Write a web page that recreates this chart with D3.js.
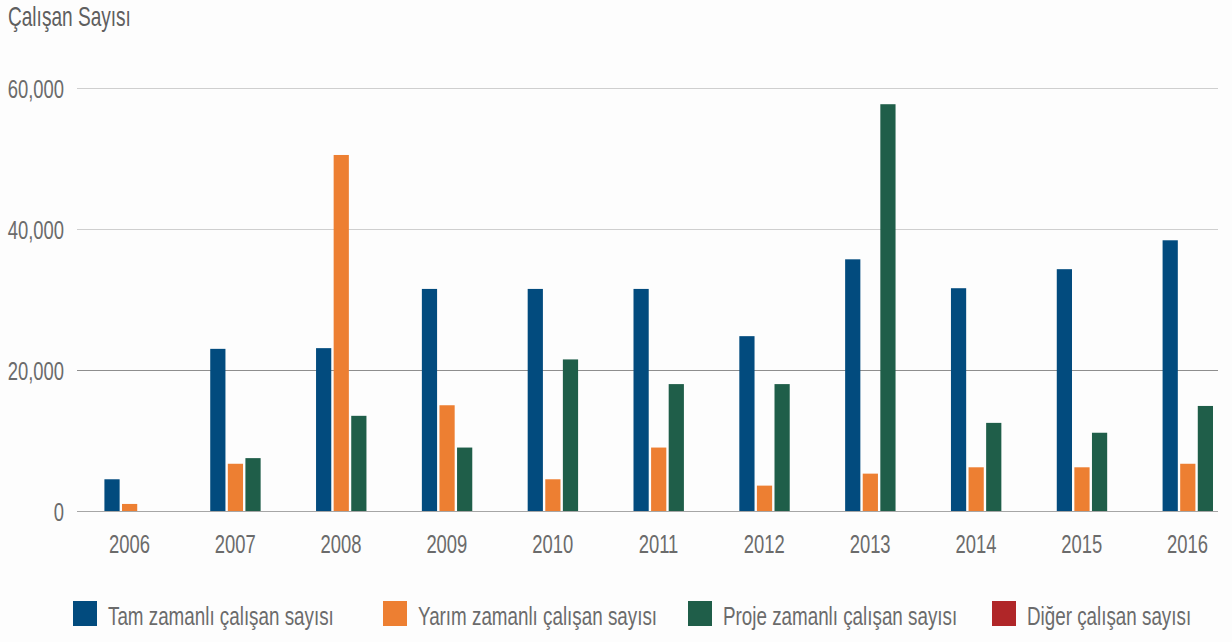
<!DOCTYPE html>
<html>
<head>
<meta charset="utf-8">
<script src="https://cdn.jsdelivr.net/npm/d3@7/dist/d3.min.js"></script>
<style>
  html, body { margin: 0; padding: 0; background: #fdfdfd; }
  svg { display: block; }
  text { font-family: "Liberation Sans Narrow", "Liberation Sans", "DejaVu Sans Condensed", sans-serif; fill: #6b6b6b; }
</style>
</head>
<body>
<div id="chart"></div>
<script>
const years = ['2006', '2007', '2008', '2009', '2010', '2011', '2012', '2013', '2014', '2015', '2016'];
const tamZamanli = [4500, 23000, 23100, 31500, 31500, 31500, 24800, 35700, 31600, 34300, 38400];
const yarimZamanli = [1000, 6700, 50500, 15000, 4500, 9000, 3600, 5300, 6200, 6200, 6700];
const projeZamanli = [0, 7500, 13500, 9000, 21500, 18000, 18000, 57700, 12500, 11100, 14900];
const digerCalisan = [0, 0, 0, 0, 0, 0, 0, 0, 0, 0, 0];
const yTicks = [0, 20000, 40000, 60000];

const seriesNames = ['Tam zamanlı çalışan sayısı', 'Yarım zamanlı çalışan sayısı', 'Proje zamanlı çalışan sayısı', 'Diğer çalışan sayısı'];
const seriesValues = [tamZamanli, yarimZamanli, projeZamanli, digerCalisan];
const colors = ['#024b7e', '#ed7f32', '#1f5e49', '#b02628'];

const width = 1232, height = 642;
const svg = d3.select('#chart').append('svg')
    .attr('width', width)
    .attr('height', height);

// the reference font is condensed: measure a sample and squeeze the group horizontally
function fitFactor(sample, size, target) {
    const t = svg.append('text').style('font-size', size + 'px').text(sample);
    const w = t.node().getComputedTextLength();
    t.remove();
    return target / w;
}
function placeText(sel, px, py, factor) {
    sel.attr('x', 0).attr('y', 0)
        .attr('transform', (d, i) => `translate(${px(d, i)},${py(d, i)}) scale(${factor},1)`);
}

const axisFactor = fitFactor('2006', 26, 41);
const legendFactor = fitFactor(seriesNames[0], 25, 226);
const titleFactor = fitFactor('Çalışan Sayısı', 27, 123);

const x = d3.scaleBand()
    .domain(years)
    .range([77, 1241])
    .padding(0);

const keys = d3.range(seriesNames.length);
const x1 = d3.scaleBand()
    .domain(keys)
    .range([-25.5, 42.5])
    .paddingInner(0.135);

const y = d3.scaleLinear()
    .domain([0, 60000])
    .range([511, 88]);

// grid lines
const gridColor = v => v === 0 ? '#a6a6a6' : (v === 20000 ? '#8e8e8e' : '#cfcfcf');
svg.append('g')
    .selectAll('line')
    .data(yTicks)
    .enter()
    .append('line')
    .attr('x1', 77)
    .attr('x2', 1218)
    .attr('y1', d => Math.round(y(d)) + 0.5)
    .attr('y2', d => Math.round(y(d)) + 0.5)
    .attr('stroke', d => gridColor(d))
    .attr('stroke-width', 1.2);

// y labels
const yLabels = svg.append('g')
    .selectAll('text')
    .data(yTicks)
    .enter()
    .append('text')
    .attr('text-anchor', 'end')
    .style('font-size', '26px')
    .text(d => d3.format(',')(d));
placeText(yLabels, () => 64, d => y(d) + 9.5, axisFactor);

// bars
const groups = svg.append('g')
    .selectAll('g')
    .data(years)
    .enter()
    .append('g')
    .attr('transform', d => `translate(${x(d) + x.bandwidth() / 2},0)`);

groups.selectAll('rect')
    .data((d, i) => keys.map(k => ({ key: k, value: seriesValues[k][i] })))
    .enter()
    .append('rect')
    .attr('x', d => x1(d.key))
    .attr('width', x1.bandwidth())
    .attr('y', d => y(d.value))
    .attr('height', d => y(0) - y(d.value))
    .attr('fill', d => colors[d.key]);

// x labels
const xLabels = svg.append('g')
    .selectAll('text')
    .data(years)
    .enter()
    .append('text')
    .attr('text-anchor', 'middle')
    .style('font-size', '26px')
    .text(d => d);
placeText(xLabels, d => x(d) + x.bandwidth() / 2 - 0.5, () => 553, axisFactor);

// title
const title = svg.append('text')
    .style('font-size', '27px')
    .style('fill', '#5f5f5f')
    .text('Çalışan Sayısı');
placeText(title, () => 8, () => 26, titleFactor);

// legend
const legendX = [73, 383, 688, 992];
const legend = svg.append('g')
    .selectAll('g')
    .data(keys)
    .enter()
    .append('g')
    .attr('transform', k => `translate(${legendX[k]},601)`);

legend.append('rect')
    .attr('width', 24)
    .attr('height', 25)
    .attr('fill', k => colors[k]);

const legendText = legend.append('text')
    .style('font-size', '25px')
    .text(k => seriesNames[k]);
placeText(legendText, () => 35, () => 24, legendFactor);
</script>
</body>
</html>
